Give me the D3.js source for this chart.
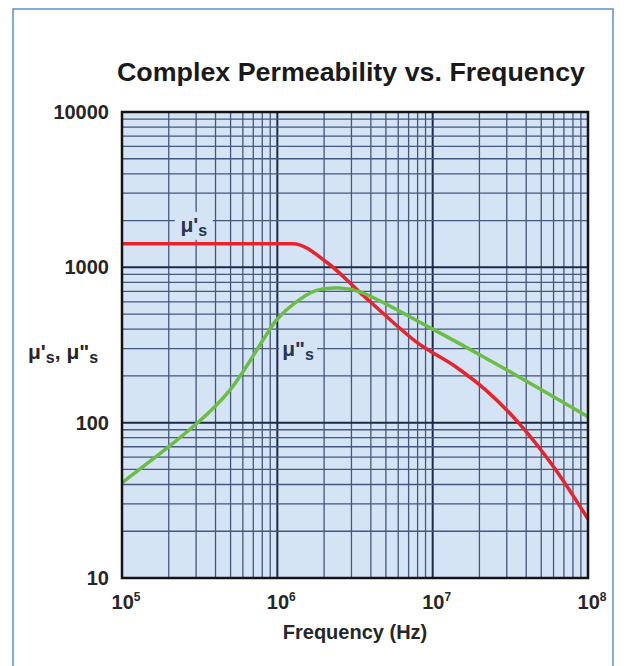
<!DOCTYPE html>
<html>
<head>
<meta charset="utf-8">
<title>Complex Permeability vs. Frequency</title>
<style>
body {
    margin: 0px;
    overflow: hidden;
    background: #fff;
}
text {
    font-family: "Liberation Sans", Arial, Helvetica, sans-serif;
    font-weight: bold;
    fill: #262626;
}
</style>
<script src="https://cdnjs.cloudflare.com/ajax/libs/d3/7.8.5/d3.min.js"></script>
</head>
<body>
<div id="chart"></div>
<script>

// chart text
var title = "Complex Permeability vs. Frequency";
var xTitle = "Frequency (Hz)";
var xTicks = [1e5, 1e6, 1e7, 1e8];
var xTickExponents = ["5", "6", "7", "8"];
var yTicks = [10, 100, 1000, 10000];
var yTickLabels = ["10", "100", "1000", "10000"];

var realFreq   = [1e5, 1.26e6, 2.1e6, 3.4e6, 5.6e6, 8e6, 1.4e7, 2.2e7, 3.6e7, 6e7, 1e8];
var realValues = [1420, 1420, 1070, 690, 440, 326, 230, 162, 99, 52, 24];

// mu'' (imaginary part)
var imagFreq   = [1e5, 2e5, 3e5, 4e5, 5e5, 6e5, 7e5, 8.3e5, 1e6, 1.3e6, 1.75e6, 2.5e6, 3.4e6, 1e7, 2.2e7, 3.6e7, 1e8];
var imagValues = [41, 70, 98, 128, 164, 212, 270, 355, 465, 590, 705, 735, 695, 400, 260, 197, 109];

// curve labels: [freq, value]
var realLabelAt = [2.9e5, 1850];
var imagLabelAt = [1.36e6, 293];

var width = 629, height = 666;
var plot = {left: 122, right: 588, top: 112, bottom: 578};
var plotFill = "#d4e4f5";

var svg = d3.select("#chart").append("svg")
    .attr("width", width)
    .attr("height", height);

// outer frame
svg.append("rect")
    .attr("x", 13).attr("y", 9)
    .attr("width", 600).attr("height", 700)
    .attr("fill", "none")
    .attr("stroke", "#5a8fd3")
    .attr("stroke-width", 1.5);

var x = d3.scaleLog().domain([1e5, 1e8]).range([plot.left, plot.right]);
var y = d3.scaleLog().domain([10, 10000]).range([plot.bottom, plot.top]);

// plot background
svg.append("rect")
    .attr("x", plot.left).attr("y", plot.top)
    .attr("width", plot.right - plot.left)
    .attr("height", plot.bottom - plot.top)
    .attr("fill", plotFill);

function isDecade(v) {
    var l = Math.log10(v);
    return Math.abs(l - Math.round(l)) < 1e-6;
}

// grid
var grid = svg.append("g").attr("class", "grid");
grid.selectAll("line.gx")
    .data(x.ticks())
    .enter().append("line")
    .attr("class", "gx")
    .attr("x1", function (d) { return x(d); })
    .attr("x2", function (d) { return x(d); })
    .attr("y1", plot.top).attr("y2", plot.bottom)
    .attr("stroke", function (d) { return isDecade(d) ? "#1c2a48" : "#44577c"; })
    .attr("stroke-width", function (d) { return isDecade(d) ? 2 : 1.3; });

grid.selectAll("line.gy")
    .data(y.ticks())
    .enter().append("line")
    .attr("class", "gy")
    .attr("y1", function (d) { return y(d); })
    .attr("y2", function (d) { return y(d); })
    .attr("x1", plot.left).attr("x2", plot.right)
    .attr("stroke", function (d) { return isDecade(d) ? "#1c2a48" : "#44577c"; })
    .attr("stroke-width", function (d) { return isDecade(d) ? 2 : 1.3; });

// curve labels with a patch of background behind them
function curveLabel(at, prime) {
    var g = svg.append("g")
        .attr("transform", "translate(" + x(at[0]) + "," + y(at[1]) + ")");
    g.append("rect")
        .attr("x", -19).attr("y", -14)
        .attr("width", 38).attr("height", 28)
        .attr("fill", plotFill);
    var t = g.append("text")
        .attr("text-anchor", "middle")
        .attr("y", 6)
        .style("font-size", "21px")
        .style("fill", "#2a3550");
    t.append("tspan").text("\u03bc" + prime);
    t.append("tspan").attr("dy", 4).style("font-size", "16px").text("s");
}
curveLabel(realLabelAt, "'");
curveLabel(imagLabelAt, "\"");

// curves
var realLine = d3.line()
    .x(function (d) { return x(d[0]); })
    .y(function (d) { return y(d[1]); })
    .curve(d3.curveMonotoneX);

var imagLine = d3.line()
    .x(function (d) { return x(d[0]); })
    .y(function (d) { return y(d[1]); })
    .curve(d3.curveCatmullRom.alpha(0.5));

svg.append("path")
    .datum(d3.zip(realFreq, realValues))
    .attr("d", realLine)
    .attr("fill", "none")
    .attr("stroke", "#e8232b")
    .attr("stroke-width", 3.5);

svg.append("path")
    .datum(d3.zip(imagFreq, imagValues))
    .attr("d", imagLine)
    .attr("fill", "none")
    .attr("stroke", "#6cbd45")
    .attr("stroke-width", 3.5);

// plot border
svg.append("rect")
    .attr("x", plot.left).attr("y", plot.top)
    .attr("width", plot.right - plot.left)
    .attr("height", plot.bottom - plot.top)
    .attr("fill", "none")
    .attr("stroke", "#141414")
    .attr("stroke-width", 2.5);

// y tick labels
svg.selectAll("text.ytick")
    .data(yTicks)
    .enter().append("text")
    .attr("class", "ytick")
    .attr("x", plot.left - 13)
    .attr("y", function (d) { return y(d) + 7; })
    .attr("text-anchor", "end")
    .style("font-size", "20px")
    .text(function (d, i) { return yTickLabels[i]; });

// x tick labels, 10 with superscript
var xt = svg.selectAll("text.xtick")
    .data(xTicks)
    .enter().append("text")
    .attr("class", "xtick")
    .attr("x", function (d) { return x(d) + 4; })
    .attr("y", plot.bottom + 31)
    .attr("text-anchor", "middle")
    .style("font-size", "20px");
xt.append("tspan").text("10");
xt.append("tspan")
    .attr("dy", -8)
    .style("font-size", "12px")
    .text(function (d, i) { return xTickExponents[i]; });

// y axis title
var yl = svg.append("text")
    .attr("x", 28)
    .attr("y", 359)
    .style("font-size", "21px");
yl.append("tspan").text("\u03bc'");
yl.append("tspan").attr("dy", 4).style("font-size", "16px").text("s");
yl.append("tspan").attr("dy", -4).text(", \u03bc\"");
yl.append("tspan").attr("dy", 4).style("font-size", "16px").text("s");

// x axis title
svg.append("text")
    .attr("x", (plot.left + plot.right) / 2)
    .attr("y", 639)
    .attr("text-anchor", "middle")
    .style("font-size", "20px")
    .text(xTitle);

// title
svg.append("text")
    .attr("x", 351)
    .attr("y", 81)
    .attr("text-anchor", "middle")
    .attr("textLength", 468)
    .attr("lengthAdjust", "spacingAndGlyphs")
    .style("font-size", "25px")
    .style("fill", "#1a1a1a")
    .text(title);

</script>
</body>
</html>
